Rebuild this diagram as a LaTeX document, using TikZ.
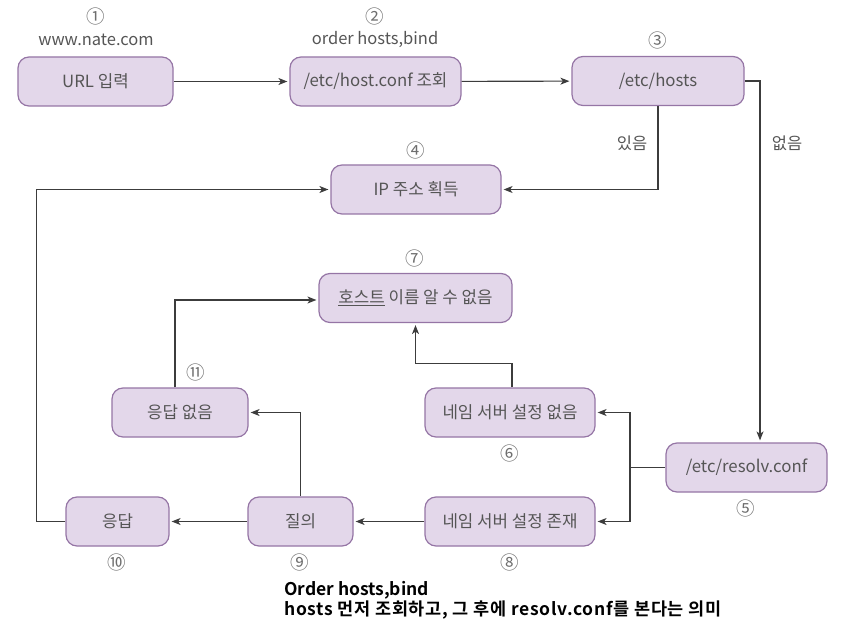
\documentclass[tikz,border=0pt]{standalone}
\usepackage{fontspec}
\setmainfont{Noto Sans CJK KR}
\newfontfamily\kbold{Noto Sans CJK KR Bold}
\usetikzlibrary{arrows.meta}
\definecolor{boxfill}{HTML}{E3D7EA}
\definecolor{boxline}{HTML}{9575A5}
\definecolor{txt}{HTML}{555555}
\definecolor{numc}{HTML}{6E6E6E}
\definecolor{linec}{HTML}{3C3C3C}
\tikzset{
  box/.style={draw=boxline, fill=boxfill, line width=1.2pt, rounded corners=11pt,
    minimum height=49pt, inner sep=0pt, text=txt, font=\fontsize{16.8}{19}\selectfont},
  num/.style={text=numc, inner sep=0pt, font=\fontsize{18.5}{20}\selectfont},
  lab/.style={text=txt, inner sep=0pt, font=\fontsize{16.5}{18}\selectfont},
  conn/.style={draw=linec, line width=1.1pt},
  arr/.style={conn, -{Stealth[length=9pt,width=7pt,inset=2.5pt]}, shorten >=2pt}
}
\begin{document}
\begin{tikzpicture}[x=1pt,y=-1pt]
\useasboundingbox (0,0) rectangle (859,631);
% boxes
\node[box, minimum width=155pt] (n1) at (95.5,81.5) {URL 입력};
\node[box, minimum width=171pt] (n2) at (375.5,81.5) {/etc/host.conf 조회};
\node[box, minimum width=172pt] (n3) at (658,81) {/etc/hosts};
\node[box, minimum width=170pt] (n4) at (416,189.5) {IP 주소 획득};
\node[box, minimum width=193pt] (n7) at (415.5,298) {\underline{호스트} 이름 알 수 없음};
\node[box, minimum width=136pt] (n11) at (180,412.5) {응답 없음};
\node[box, minimum width=170pt] (n6) at (510,412.5) {네임 서버 설정 없음};
\node[box, minimum width=161pt] (n5) at (746.5,467.5) {/etc/resolv.conf};
\node[box, minimum width=103pt] (n10) at (117.5,521.5) {응답};
\node[box, minimum width=105pt] (n9) at (300.5,521.5) {질의};
\node[box, minimum width=170pt] (n8) at (510,521.5) {네임 서버 설정 존재};
% labels
\node[num] (l1) at (96,16) {①};
\node[lab] (w1) at (96,40) {www.nate.com};
\node[num] (l2) at (375,16) {②};
\node[lab] (w2) at (375,40) {order hosts,bind};
\node[num] (l3) at (658,40) {③};
\node[num] (l4) at (416,150) {④};
\node[num] (l7) at (415,258) {⑦};
\node[num] (l11) at (196,372) {⑪};
\node[num] (l6) at (510,453) {⑥};
\node[num] (l5) at (746,508) {⑤};
\node[num] (l10) at (117,562) {⑩};
\node[num] (l9) at (300,562) {⑨};
\node[num] (l8) at (510,562) {⑧};
\node[lab] (yes) at (632,143) {있음};
\node[lab] (no) at (787,143) {없음};
\node[anchor=west, align=left, inner sep=0pt, font=\kbold\fontsize{17.5}{19.5}\selectfont] (note) at (284,600.5)
  {Order hosts,bind\\{\addfontfeatures{LetterSpace=4}hosts 먼저 조회하고, 그 후에 resolv.conf를 본다는 의미}};
% connectors
\draw[arr] (n1) -- (n2);
\draw[arr] (n2) -- (n3);
\draw[arr] (n3.south) |- (n4.east);
\draw[arr] (n3.east) -| ([xshift=13.5pt]n5.north);
\coordinate (j5) at (630,467.5);
\draw[conn] (n5.west) -- (j5);
\draw[arr] (j5) |- (n6.east);
\draw[arr] (j5) |- (n8.east);
\draw[arr] ([xshift=2pt]n6.north) -- ++(0,-24) -| (n7.south);
\draw[arr] (n8) -- (n9);
\draw[arr] (n9) -- (n10);
\draw[arr] (n9.north) |- (n11.east);
\draw[arr] ([xshift=-5pt]n11.north) |- ([yshift=-2pt]n7.west);
\draw[arr] (n10.west) -- ++(-29,0) |- (n4.west);
\end{tikzpicture}
\end{document}
